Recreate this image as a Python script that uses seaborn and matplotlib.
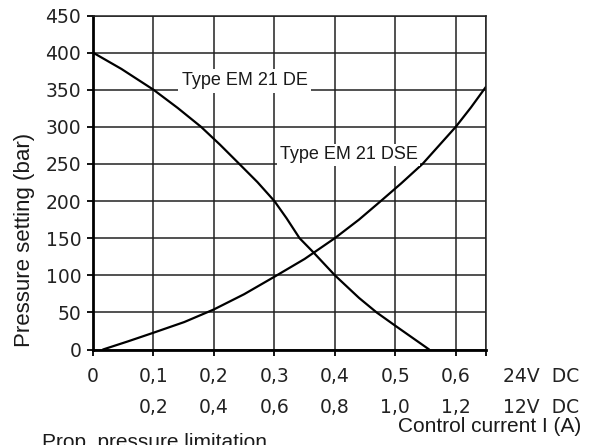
import matplotlib
matplotlib.use("Agg")
import matplotlib.pyplot as plt
import matplotlib.transforms as mtransforms
import seaborn as sns
import pandas as pd

# ---- data ----
de_x = [0.0, 0.047, 0.1, 0.14, 0.1787, 0.21, 0.242, 0.272, 0.3, 0.32, 0.3416,
        0.365, 0.4, 0.44, 0.469, 0.5, 0.556]
de_y = [400, 378, 350, 325.5, 300, 276, 250, 225.5, 200, 177, 150,
        130.5, 100, 69.5, 50, 32, 0]

dse_x = [0.0165, 0.058, 0.1, 0.151, 0.2, 0.25, 0.3, 0.35, 0.4, 0.44, 0.476,
         0.51, 0.545, 0.6, 0.625, 0.65]
dse_y = [0, 11, 22.6, 37, 54, 74.5, 98, 122, 150, 175, 200,
         224, 250, 300, 326, 354]

x_ticks = [0.0, 0.1, 0.2, 0.3, 0.4, 0.5, 0.6, 0.65]
x_tick_labels_24v = ["0", "0,1", "0,2", "0,3", "0,4", "0,5", "0,6", ""]
x_pos_12v = [0.1, 0.2, 0.3, 0.4, 0.5, 0.6]
x_tick_labels_12v = ["0,2", "0,4", "0,6", "0,8", "1,0", "1,2"]
y_ticks = [0, 50, 100, 150, 200, 250, 300, 350, 400, 450]
y_tick_labels = [str(v) for v in y_ticks]

label_de = "Type EM 21 DE"
label_dse = "Type EM 21 DSE"

sns.set_style("white")
plt.rcParams["font.family"] = ["DejaVu Sans"]

W, H = 593, 445
fig = plt.figure(figsize=(5.93, 4.45), dpi=100)
ax = fig.add_axes([93 / W, (H - 349.5) / H, (486 - 93) / W, (349.5 - 15.5) / H])

df_de = pd.DataFrame({"x": de_x, "y": de_y})
df_dse = pd.DataFrame({"x": dse_x, "y": dse_y})
sns.lineplot(data=df_de, x="x", y="y", ax=ax, sort=False, estimator=None,
             color="black", linewidth=1.6, zorder=2)
sns.lineplot(data=df_dse, x="x", y="y", ax=ax, sort=False, estimator=None,
             color="black", linewidth=1.6, zorder=2)
for ln in ax.get_lines():
    ln.set_solid_joinstyle("round")

ax.set_xlim(0, 0.65)
ax.set_ylim(0, 450)
ax.set_xticks(x_ticks)
ax.set_xticklabels(x_tick_labels_24v)
ax.set_yticks(y_ticks)
ax.set_yticklabels(y_tick_labels)
ax.set_xlabel("")
ax.set_ylabel("")

ax.grid(True, color="#222222", linewidth=1.1, zorder=0)
ax.set_axisbelow(True)
for s in ["top", "right"]:
    ax.spines[s].set_visible(True)
    ax.spines[s].set_color("#222222")
    ax.spines[s].set_linewidth(1.1)
for s in ["left", "bottom"]:
    ax.spines[s].set_color("black")
    ax.spines[s].set_linewidth(2.0)

ax.tick_params(axis="both", direction="out", length=4.5, width=1.3, color="black",
               labelsize=13.5, labelcolor="#222222", bottom=True, left=True)
ax.tick_params(axis="x", pad=8)
ax.tick_params(axis="y", pad=4)

lab_font = ["Liberation Sans", "DejaVu Sans"]
ax.text(0.147, 355.7, label_de, fontsize=13, family=lab_font, color="#1a1a1a",
        ha="left", va="baseline", zorder=5,
        bbox=dict(fc="white", ec="none", pad=2.5))
ax.text(0.309, 256, label_dse, fontsize=13, family=lab_font, color="#1a1a1a",
        ha="left", va="baseline", zorder=5,
        bbox=dict(fc="white", ec="none", pad=2.0))

# second row of current values (12 V)
tr = mtransforms.blended_transform_factory(ax.transData, fig.transFigure)
for xv, lab in zip(x_pos_12v, x_tick_labels_12v):
    ax.text(xv, (H - 407.5) / H, lab, transform=tr, ha="center", va="center",
            fontsize=13.5, color="#222222", clip_on=False)

fig.text(503 / W, (H - 377) / H, "24V  DC", ha="left", va="center",
         fontsize=13.5, color="#222222")
fig.text(503 / W, (H - 407.5) / H, "12V  DC", ha="left", va="center",
         fontsize=13.5, color="#222222")

fig.text(25 / W, (H - 240) / H, "Pressure setting (bar)", rotation=90,
         ha="center", va="center", fontsize=16, family=lab_font, color="#1a1a1a")
fig.text(398 / W, (H - 427) / H, "Control current I (A)", ha="left", va="center",
         fontsize=15, family=lab_font, color="#1a1a1a")
fig.text(42 / W, (H - 433) / H, "Prop. pressure limitation", ha="left", va="top",
         fontsize=15, family=lab_font, color="#1a1a1a")

fig.savefig("out.png", dpi=100, facecolor="white")
